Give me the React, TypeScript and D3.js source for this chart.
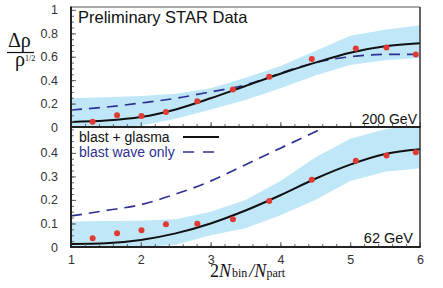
import * as d3 from 'd3';
import { useEffect, useRef } from 'react';

// x positions where the model curves and the band are sampled
const curveX = [1, 1.5, 2, 2.5, 3, 3.5, 4, 4.5, 5, 5.5, 6];

// data points (same centralities for both energies)
const pointX = [1.31, 1.66, 2.01, 2.36, 2.81, 3.32, 3.84, 4.45, 5.08, 5.52, 5.94];

// 200 GeV panel
const points200 = [0.045, 0.1, 0.094, 0.128, 0.22, 0.32, 0.43, 0.58, 0.67, 0.68, 0.62];
const glasma200 = [0.043, 0.055, 0.085, 0.15, 0.245, 0.35, 0.455, 0.55, 0.635, 0.69, 0.715];
const blast200 = [0.145, 0.17, 0.205, 0.245, 0.3, 0.36, 0.46, 0.55, 0.6, 0.62, 0.62];
const bandHi200 = [0.245, 0.255, 0.265, 0.285, 0.33, 0.42, 0.52, 0.65, 0.78, 0.83, 0.87];
const bandLo200 = [0, 0, 0.01, 0.07, 0.15, 0.23, 0.33, 0.44, 0.53, 0.57, 0.59];

// 62 GeV panel
const points62 = [0.037, 0.058, 0.071, 0.097, 0.099, 0.118, 0.196, 0.286, 0.367, 0.389, 0.403];
const glasma62 = [0.013, 0.016, 0.03, 0.058, 0.1, 0.155, 0.22, 0.29, 0.35, 0.395, 0.415];
const blast62 = [0.132, 0.155, 0.18, 0.225, 0.28, 0.35, 0.42, 0.49, 0.56, 0.63, 0.7];
const bandHi62 = [0.108, 0.11, 0.112, 0.118, 0.15, 0.2, 0.28, 0.38, 0.46, 0.5, 0.52];
const bandLo62 = [0, 0, 0, 0.01, 0.05, 0.08, 0.135, 0.2, 0.28, 0.32, 0.335];

const xTicks = [1, 2, 3, 4, 5, 6];
const yTicks200 = [0, 0.2, 0.4, 0.6, 0.8, 1];
const yTicks62 = [0, 0.1, 0.2, 0.3, 0.4];
const legendLabels = ['blast + glasma', 'blast wave only'];

const width = 443;
const height = 288;
const left = 71;
const right = 420;
const top = 7;
const mid = 127;
const bottom = 247;

const bandColor = '#bfe7f8';
const dotColor = '#e03a33';
const blueColor = '#2e3192';
const font = '"Liberation Sans", Arial, sans-serif';
const serif = '"Liberation Serif", "Times New Roman", serif';

export default function App() {
  const ref = useRef<SVGSVGElement>(null);

  useEffect(() => {
    const svg = d3.select(ref.current);
    svg.selectAll('*').remove();

    const x = d3.scaleLinear().domain([1, 6]).range([left, right]);
    const yTop = d3.scaleLinear().domain([0, 1.025]).range([mid, top]);
    const yBot = d3.scaleLinear().domain([0, 0.51]).range([bottom, mid]);

    const defs = svg.append('defs');
    defs.append('clipPath').attr('id', 'clipTop')
      .append('rect').attr('x', left).attr('y', top).attr('width', right - left).attr('height', mid - top);
    defs.append('clipPath').attr('id', 'clipBot')
      .append('rect').attr('x', left).attr('y', mid).attr('width', right - left).attr('height', bottom - mid);

    const panels = [
      { y: yTop, clip: 'clipTop', pts: points200, glasma: glasma200, blast: blast200, hi: bandHi200, lo: bandLo200, ticks: yTicks200, minor: d3.range(0, 1.0001, 0.05), base: mid },
      { y: yBot, clip: 'clipBot', pts: points62, glasma: glasma62, blast: blast62, hi: bandHi62, lo: bandLo62, ticks: yTicks62, minor: d3.range(0, 0.5001, 0.025), base: bottom },
    ];

    panels.forEach((p) => {
      const g = svg.append('g').attr('clip-path', `url(#${p.clip})`);

      // systematic band
      const area = d3.area<number>()
        .x((d, i) => x(curveX[i]))
        .y0((d, i) => p.y(p.lo[i]))
        .y1((d) => p.y(d));
      g.append('path').datum(p.hi).attr('d', area).attr('fill', bandColor);

      const line = d3.line<number>()
        .x((d, i) => x(curveX[i]))
        .y((d) => p.y(d))
        .curve(d3.curveMonotoneX);

      g.append('path').datum(p.blast).attr('d', line)
        .attr('fill', 'none').attr('stroke', blueColor).attr('stroke-width', 1.7)
        .attr('stroke-dasharray', '11 7');
      g.append('path').datum(p.glasma).attr('d', line)
        .attr('fill', 'none').attr('stroke', '#111').attr('stroke-width', 2);

      g.selectAll('circle.pt').data(p.pts).enter().append('circle')
        .attr('cx', (d, i) => x(pointX[i]))
        .attr('cy', (d) => p.y(d))
        .attr('r', 3)
        .attr('fill', dotColor);

      // y ticks pointing inward
      const yAxis = d3.axisLeft(p.y).tickValues(p.ticks).tickSize(-5).tickPadding(13)
        .tickFormat((d) => String(d));
      const ya = svg.append('g').attr('transform', `translate(${left},0)`).call(yAxis);
      ya.select('.domain').remove();
      ya.selectAll('line').attr('stroke', '#666');
      ya.selectAll('text').attr('font-family', font).attr('font-size', 12.5).attr('fill', '#333');

      const yMinor = d3.axisLeft(p.y).tickValues(p.minor).tickSize(-3).tickFormat(() => '');
      const ym = svg.append('g').attr('transform', `translate(${left},0)`).call(yMinor);
      ym.select('.domain').remove();
      ym.selectAll('line').attr('stroke', '#666');

      // x ticks pointing up from the panel bottom
      const xMinor = d3.axisBottom(x).tickValues(d3.range(1, 6.0001, 0.2)).tickSize(-3).tickFormat(() => '');
      const xm = svg.append('g').attr('transform', `translate(0,${p.base})`).call(xMinor);
      xm.select('.domain').remove();
      xm.selectAll('line').attr('stroke', '#666');
      const xMajor = d3.axisBottom(x).tickValues(xTicks).tickSize(-5).tickFormat(() => '');
      const xj = svg.append('g').attr('transform', `translate(0,${p.base})`).call(xMajor);
      xj.select('.domain').remove();
      xj.selectAll('line').attr('stroke', '#666');
    });

    // x tick labels
    const xAxis = d3.axisBottom(x).tickValues(xTicks).tickSize(0).tickPadding(8)
      .tickFormat((d) => String(d));
    const xa = svg.append('g').attr('transform', `translate(0,${bottom})`).call(xAxis);
    xa.select('.domain').remove();
    xa.selectAll('text').attr('font-family', font).attr('font-size', 12.5).attr('fill', '#333');

    // frame
    svg.append('line').attr('x1', left).attr('x2', right).attr('y1', top).attr('y2', top)
      .attr('stroke', '#555').attr('stroke-width', 1);
    svg.append('line').attr('x1', right).attr('x2', right).attr('y1', top).attr('y2', bottom)
      .attr('stroke', '#333').attr('stroke-width', 1.5);
    [mid, bottom].forEach((yy) => {
      svg.append('line').attr('x1', left - 1).attr('x2', right + 0.75).attr('y1', yy).attr('y2', yy)
        .attr('stroke', '#222').attr('stroke-width', 2);
    });
    svg.append('line').attr('x1', left).attr('x2', left).attr('y1', top - 0.5).attr('y2', bottom + 1)
      .attr('stroke', '#222').attr('stroke-width', 2);

    // panel texts
    svg.append('text').attr('x', 78).attr('y', 22.5).text('Preliminary STAR Data')
      .attr('font-family', font).attr('font-size', 16.5).attr('fill', '#111');
    svg.append('text').attr('x', 417).attr('y', 124).attr('text-anchor', 'end').text('200 GeV')
      .attr('font-family', font).attr('font-size', 14).attr('fill', '#111');
    svg.append('text').attr('x', 413).attr('y', 243).attr('text-anchor', 'end').text('62 GeV')
      .attr('font-family', font).attr('font-size', 14.5).attr('fill', '#111');

    // legend
    const legend = svg.append('g');
    legend.append('text').attr('x', 79).attr('y', 142).text(legendLabels[0])
      .attr('font-family', font).attr('font-size', 14).attr('fill', '#111');
    legend.append('line').attr('x1', 183).attr('x2', 219).attr('y1', 137).attr('y2', 137)
      .attr('stroke', '#111').attr('stroke-width', 2);
    legend.append('text').attr('x', 79).attr('y', 157).text(legendLabels[1])
      .attr('font-family', font).attr('font-size', 14).attr('fill', blueColor);
    legend.append('line').attr('x1', 183).attr('x2', 219).attr('y1', 152).attr('y2', 152)
      .attr('stroke', blueColor).attr('stroke-width', 1.7).attr('stroke-dasharray', '11 9');

    // x axis title
    const xt = svg.append('text').attr('x', 210).attr('y', 277)
      .attr('font-family', serif).attr('font-size', 18).attr('fill', '#111');
    xt.append('tspan').text('2');
    xt.append('tspan').attr('font-style', 'italic').text('N');
    xt.append('tspan').attr('font-size', 12).attr('dx', 1).text('bin');
    xt.append('tspan').attr('font-style', 'italic').attr('dx', 2).text('/N');
    xt.append('tspan').attr('font-size', 12).text('part');

    // y axis title
    svg.append('text').attr('x', 8).attr('y', 47).text('Δρ')
      .attr('font-family', serif).attr('font-size', 20).attr('fill', '#111');
    svg.append('line').attr('x1', 7).attr('x2', 34).attr('y1', 52.5).attr('y2', 52.5)
      .attr('stroke', '#111').attr('stroke-width', 1.2);
    const yt = svg.append('text').attr('x', 15).attr('y', 66)
      .attr('font-family', serif).attr('font-size', 20).attr('fill', '#111');
    yt.append('tspan').text('ρ');
    yt.append('tspan').attr('font-size', 8).attr('dy', -5).text('1/2');
  }, []);

  return (
    <svg
      ref={ref}
      width={width}
      height={height}
      style={{ position: 'absolute', left: 0, top: 0, background: '#fff' }}
    />
  );
}
